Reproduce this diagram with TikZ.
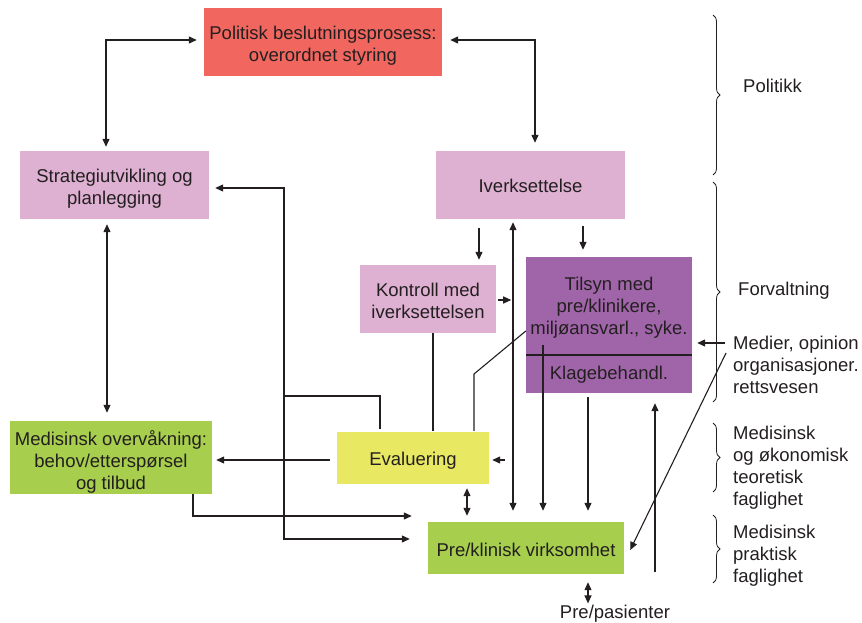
\documentclass[tikz,border=0pt]{standalone}
\usepackage{fontspec}
\setmainfont{Liberation Sans}
\usetikzlibrary{arrows.meta,calc,decorations.pathreplacing}
\definecolor{cred}{HTML}{F1665E}
\definecolor{clil}{HTML}{DEB0D2}
\definecolor{cpur}{HTML}{A065A9}
\definecolor{cgrn}{HTML}{A7CE4D}
\definecolor{cyel}{HTML}{E8E863}
\definecolor{ink}{HTML}{231F20}
\begin{document}
\begin{tikzpicture}[x=1pt,y=-1pt,
  box/.style={draw=none,inner sep=0pt},
  txt/.style={inner sep=0pt,align=center,font=\fontsize{18.5}{22}\selectfont,text=ink},
  lbl/.style={inner sep=0pt,align=left,anchor=west,font=\fontsize{18.5}{22}\selectfont,text=ink},
  ln/.style={draw=ink,line width=1.1pt},
  arr/.style={ln,-{Triangle[length=8pt,width=7pt]}},
  dbl/.style={ln,{Triangle[length=8pt,width=7pt]}-{Triangle[length=8pt,width=7pt]}},
  brc/.style={draw=ink,line width=0.8pt,decorate,decoration={brace,amplitude=7pt}}]
\useasboundingbox (0,0) rectangle (862,623);

% boxes
\node[box,fill=cred,minimum width=238pt,minimum height=68pt] (pol) at (323,42) {};
\node[box,fill=clil,minimum width=189pt,minimum height=68pt] (strat) at (114.5,185) {};
\node[box,fill=clil,minimum width=189pt,minimum height=68pt] (iverk) at (530.5,185) {};
\node[box,fill=clil,minimum width=136pt,minimum height=68pt] (kontr) at (428,299) {};
\node[box,fill=cpur,minimum width=166pt,minimum height=136pt] (tilsyn) at (609,325) {};
\node[box,fill=cgrn,minimum width=202pt,minimum height=73pt] (medov) at (111,457.5) {};
\node[box,fill=cyel,minimum width=152pt,minimum height=52pt] (eval) at (413,458) {};
\node[box,fill=cgrn,minimum width=196pt,minimum height=52pt] (prekl) at (526,548) {};

% box texts
\node[txt] (poltxt) at ($(pol.center)+(0,3.5)$) {Politisk beslutningsprosess:\\overordnet styring};
\node[txt] (strattxt) at ($(strat.center)+(0,3.5)$) {Strategiutvikling og\\planlegging};
\node[txt] (iverktxt) at ($(iverk.center)+(0,1)$) {Iverksettelse};
\node[txt] (kontrtxt) at ($(kontr.center)+(0,1.5)$) {Kontroll med\\iverksettelsen};
\node[txt] (tilsyntxt) at (609,308) {Tilsyn med\\pre/klinikere,\\miljøansvarl., syke.};
\node[txt] (klage) at (609,375) {Klagebehandl.};
\node[txt] (medovtxt) at ($(medov.center)+(0,4)$) {Medisinsk overvåkning:\\behov/etterspørsel\\og tilbud};
\node[txt] (evaltxt) at ($(eval.center)+(0,3)$) {Evaluering};
\node[txt] (prekltxt) at ($(prekl.center)+(0,2)$) {Pre/klinisk virksomhet};
\node[txt,anchor=base] (pas) at (615,618) {Pre/pasienter};

% right labels
\node[lbl] (politikk) at (743,86) {Politikk};
\node[lbl] (forv) at (738,291) {Forvaltning};
\node[lbl] (medier) at (733,365) {Medier, opinion\\organisasjoner.\\rettsvesen};
\node[lbl] (teor) at (733,468) {Medisinsk\\og økonomisk\\teoretisk\\faglighet};
\node[lbl] (prakt) at (733,556) {Medisinsk\\praktisk\\faglighet};

% braces
\draw[brc] (713,15) -- (713,175);
\draw[brc] (713,182) -- (713,402);
\draw[brc] (713,423) -- (713,492);
\draw[brc] (713,515) -- (713,583);

% divider in Tilsyn
\draw[ln] (tilsyn.west |- 0,355) -- (tilsyn.east |- 0,355);

% connectors
\draw[dbl] ($(strat.north)+(-8.5,-4)$) |- ($(pol.west)+(-7,-2)$);
\draw[dbl] ($(pol.east)+(8,-2)$) -| ($(iverk.north)+(4.5,-8)$);
\draw[dbl] ($(strat.south)+(-7.5,5)$) -- ($(medov.north)+(-4,-8)$);

\coordinate (jx) at (284,396);
\draw[ln] ($(eval.north -| 380,0)+(0,-3)$) |- (jx);
\draw[arr] (jx) |- ($(strat.east)+(6,3)$);
\draw[arr] (jx) |- ($(prekl.west)+(-18,-9)$);

\draw[arr] ($(eval.west)+(-7,2)$) -- ($(medov.east |- eval.west)+(4,2)$);
\draw[arr] ($(medov.south)+(82,0)$) |- ($(prekl.west)+(-16,-32)$);
\draw[arr] ($(eval.east)+(16,2)$) -- ($(eval.east)+(3,2)$);
\draw[dbl] ($(eval.south -| 467,0)+(0,4)$) -- ($(prekl.north -| 467,0)+(0,-6)$);

\draw[ln] (kontr.south -| 433,0) -- ($(eval.north -| 433,0)+(0,-1)$);
\coordinate (tb) at (474,374);
\draw[ln] (tilsyn.west |- 0,331) -- (tb) -- ($(eval.north -| 474,0)+(0,-1)$);

\draw[arr] ($(iverk.south -| 479,0)+(0,9)$) -- ($(kontr.north -| 479,0)+(0,-5)$);
\draw[arr] ($(iverk.south -| 583,0)+(0,7)$) -- ($(tilsyn.north -| 583,0)+(0,-7)$);
\draw[arr] ($(kontr.east)+(2,1)$) -- ($(kontr.east)+(15,1)$);

\draw[dbl] ($(iverk.south -| 513,0)+(0,3)$) -- ($(prekl.north -| 513,0)+(0,-11)$);
\draw[arr] ($(tilsyn.north -| 543,0)+(0,88)$) -- ($(prekl.north -| 543,0)+(0,-11)$);
\draw[arr] ($(tilsyn.south -| 588,0)+(0,4)$) -- ($(prekl.north -| 588,0)+(0,-11)$);
\draw[arr] ($(prekl.south -| 655,0)+(0,-2)$) -- ($(tilsyn.south -| 655,0)+(0,10)$);

\draw[arr] ($(medier.west)+(-8,-22)$) -- ($(tilsyn.east)+(5,18)$);
\draw[arr] ($(medier.west)+(-7,-12)$) -- ($(prekl.east)+(6,2)$);

\draw[dbl] ($(prekl.south -| 588,0)+(0,8)$) -- ($(pas.north -| 588,0)+(0,-1)$);
\end{tikzpicture}
\end{document}
